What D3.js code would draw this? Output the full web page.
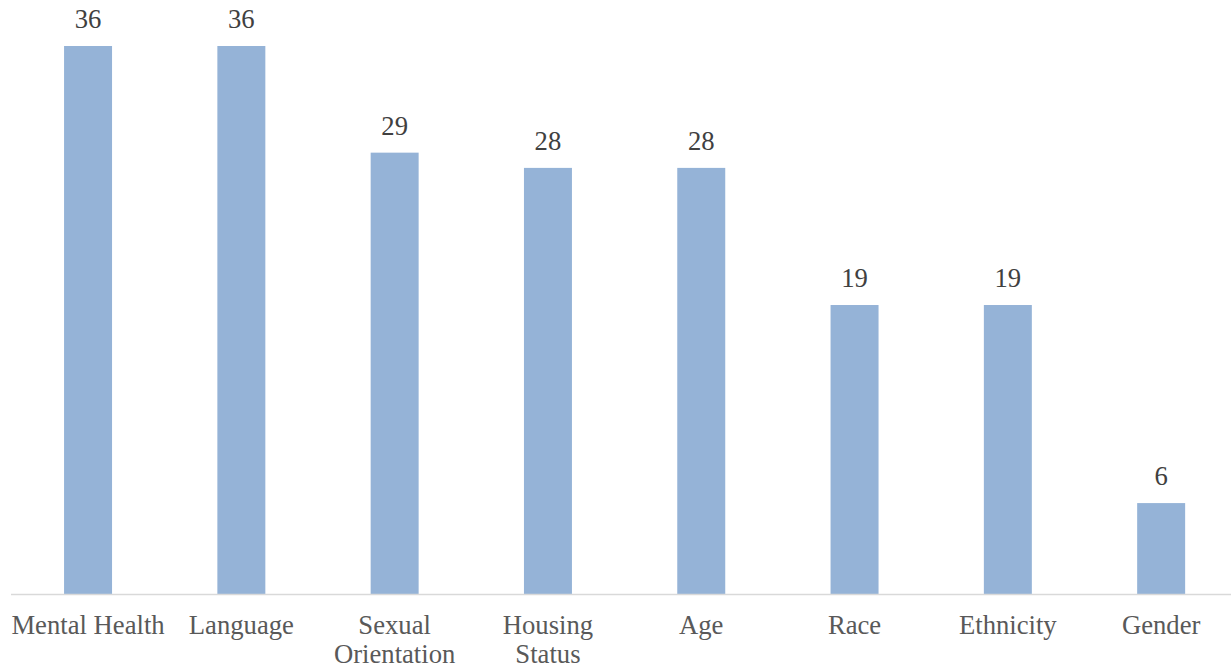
<!DOCTYPE html>
<html><head><meta charset="utf-8">
<script src="https://cdn.jsdelivr.net/npm/d3@7"></script>
<style>body{margin:0;background:#fff;}svg{display:block;}</style>
</head><body>
<script>
const categories = ["Mental Health","Language","Sexual Orientation","Housing Status","Age","Race","Ethnicity","Gender"];
const labelLines = [["Mental Health"],["Language"],["Sexual","Orientation"],["Housing","Status"],["Age"],["Race"],["Ethnicity"],["Gender"]];
const values = [36,36,29,28,28,19,19,6];

const W=1231,H=667;
const svg=d3.select("body").append("svg").attr("width",W).attr("height",H);
const x=d3.scaleBand().domain(categories).range([11.4,1237.8]).paddingInner(0.687).paddingOuter(0.3435);
const y=d3.scaleLinear().domain([0,36]).range([594.5,46]);
const font="'Liberation Serif','Times New Roman',serif";

svg.append("g").selectAll("rect").data(values).join("rect")
  .attr("x",(d,i)=>x(categories[i]))
  .attr("width",x.bandwidth())
  .attr("y",d=>y(d))
  .attr("height",d=>y(0)-y(d))
  .attr("fill","#95B3D7");

svg.append("line").attr("x1",11).attr("x2",W).attr("y1",594.5).attr("y2",594.5)
  .attr("stroke","#d9d9d9").attr("stroke-width",1.5);

svg.append("g").selectAll("text").data(values).join("text")
  .attr("x",(d,i)=>x(categories[i])+x.bandwidth()/2)
  .attr("y",d=>y(d)-18)
  .attr("text-anchor","middle")
  .attr("font-family",font).attr("font-size",26.67).attr("fill","#404040")
  .text(d=>d);

const lab=svg.append("g").selectAll("text").data(categories).join("text")
  .attr("x",d=>x(d)+x.bandwidth()/2)
  .attr("y",634)
  .attr("text-anchor","middle")
  .attr("font-family",font).attr("font-size",26.67).attr("fill","#595959");
lab.each(function(d,i){
  const t=d3.select(this);
  labelLines[i].forEach((ln,j)=>{
    t.append("tspan").attr("x",x(d)+x.bandwidth()/2).attr("dy",j===0?0:29).text(ln);
  });
});
</script>
</body></html>
